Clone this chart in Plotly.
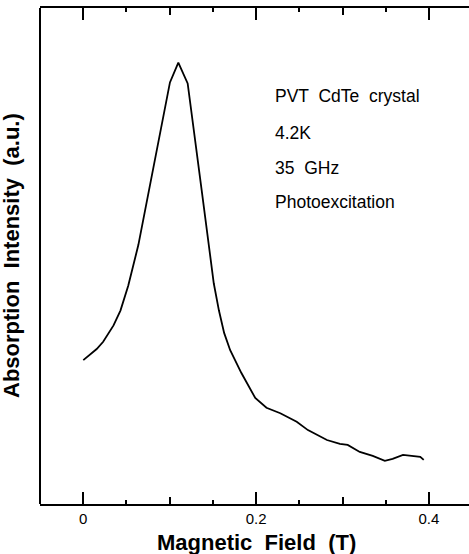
import plotly.graph_objects as go

# Magnetic field (T) and absorption intensity (a.u.)
field = [0.000, 0.0155, 0.023, 0.035, 0.043, 0.052, 0.0637, 0.076,
         0.1003, 0.110, 0.1208, 0.137, 0.1466, 0.151, 0.157, 0.163,
         0.170, 0.183, 0.199, 0.212, 0.228, 0.247, 0.260, 0.282, 0.297,
         0.306, 0.320, 0.335, 0.349, 0.358, 0.370, 0.382, 0.390, 0.394]
intensity = [0.290, 0.3125, 0.327, 0.360, 0.390, 0.440, 0.522, 0.633,
             0.850, 0.890, 0.848, 0.633, 0.500, 0.445, 0.390, 0.345,
             0.310, 0.264, 0.214, 0.194, 0.183, 0.166, 0.149, 0.129, 0.121,
             0.119, 0.105, 0.097, 0.087, 0.091, 0.099, 0.097, 0.095, 0.089]

info_lines = ["PVT  CdTe  crystal", "4.2K", "35  GHz", "Photoexcitation"]
info_y = [0.8226, 0.7486, 0.6780, 0.6089]

x_title = "Magnetic  Field  (T)"
y_title = "Absorption  Intensity  (a.u.)"
tick_vals = [0, 0.2, 0.4]
tick_text = ["0", "0.2", "0.4"]
mid_ticks = [0.1, 0.3]
small_ticks = [0.05, 0.15, 0.25, 0.35]

FONT = "Liberation Sans, Arial, Helvetica, sans-serif"
XR = [-0.0501, 0.4464]
YR = [0, 1]

fig = go.Figure()
fig.add_trace(go.Scatter(x=field, y=intensity, mode="lines",
                         line=dict(color="black", width=1.8),
                         showlegend=False, hoverinfo="skip"))
for ax in ("x2", "x3"):
    fig.add_trace(go.Scatter(x=[XR[0]], y=[0], xaxis=ax, mode="markers",
                             marker=dict(opacity=0), showlegend=False,
                             hoverinfo="skip"))

for txt, yy in zip(info_lines, info_y):
    fig.add_annotation(x=0.2196, y=yy, xref="x", yref="y", text=txt,
                       showarrow=False, xanchor="left", yanchor="middle",
                       font=dict(family=FONT, size=17.5, color="black"))

fig.add_annotation(x=(256 - 40) / 429, y=0, xref="paper", yref="paper",
                   yshift=-38, text=f"<b>{x_title}</b>", showarrow=False,
                   xanchor="center", yanchor="middle",
                   font=dict(family=FONT, size=22, color="black"))
fig.add_annotation(x=0, y=0.5, xref="paper", yref="paper", xshift=-29,
                   text=f"<b>{y_title}</b>", showarrow=False, textangle=-90,
                   xanchor="center", yanchor="middle",
                   font=dict(family=FONT, size=22, color="black"))

# left frame line
fig.add_shape(type="line", xref="paper", yref="paper", x0=0, x1=0, y0=0,
              y1=1, line=dict(color="black", width=2))

tick_common = dict(range=XR, showgrid=False, zeroline=False, tickcolor="black",
                   tickwidth=2, ticks="inside")
fig.update_layout(
    width=469, height=554,
    margin=dict(l=40, r=0, t=8, b=50),
    paper_bgcolor="white", plot_bgcolor="white",
    xaxis=dict(**tick_common, showline=True, linecolor="black", linewidth=2,
               mirror="ticks", ticklen=12, tickvals=tick_vals,
               ticktext=tick_text,
               tickfont=dict(family=FONT, size=15, color="black")),
    xaxis2=dict(**tick_common, overlaying="x", anchor="y", side="bottom",
                showline=False, mirror="ticks", ticklen=7,
                tickvals=mid_ticks, showticklabels=False),
    xaxis3=dict(**tick_common, overlaying="x", anchor="y", side="bottom",
                showline=False, mirror="ticks", ticklen=4,
                tickvals=small_ticks, showticklabels=False),
    yaxis=dict(range=YR, showgrid=False, zeroline=False, showline=False,
               ticks="", showticklabels=False, mirror=False),
)

fig.write_html("out.html")
